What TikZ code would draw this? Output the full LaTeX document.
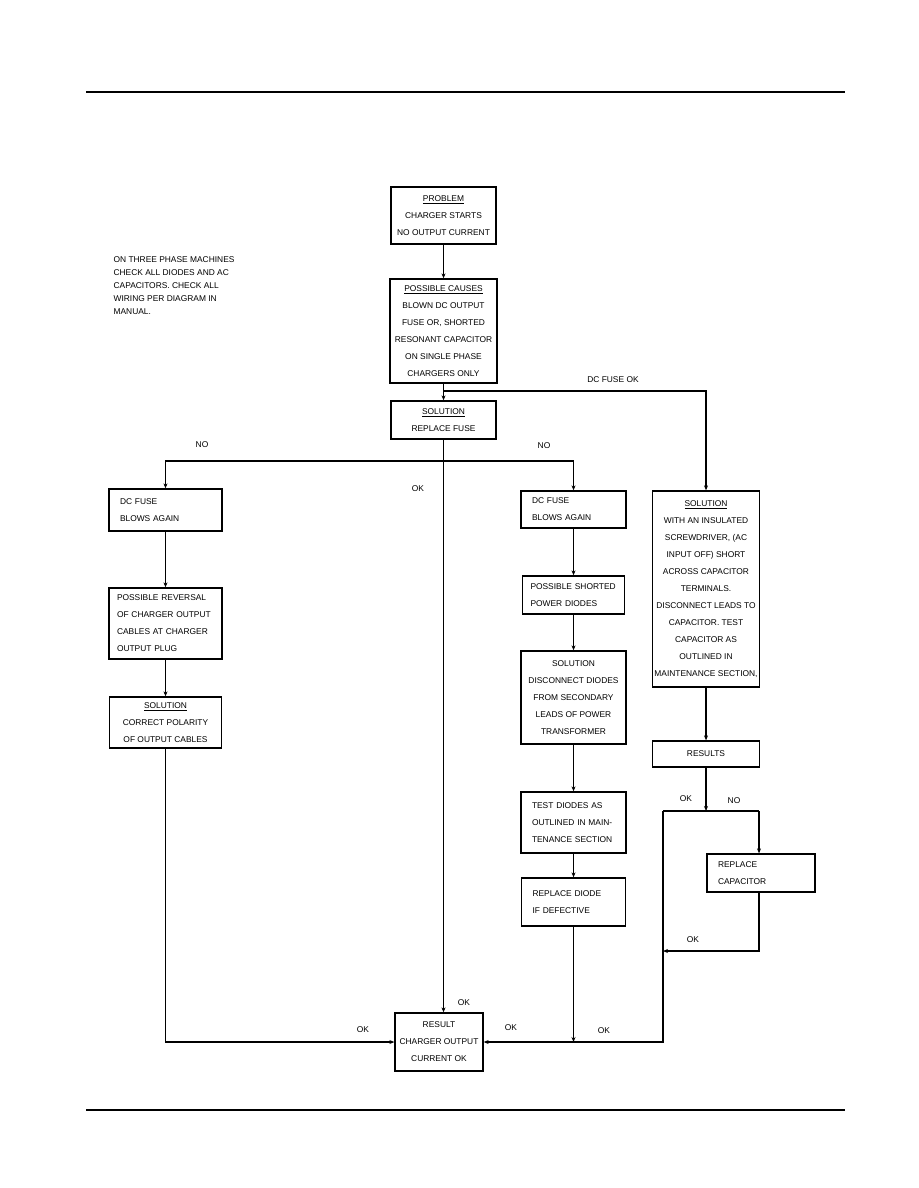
\documentclass[tikz,border=0pt]{standalone}
\usepackage{fontspec}
\setmainfont{Liberation Sans}
\usetikzlibrary{arrows.meta}
\hyphenpenalty=10000

\begin{document}
\begin{tikzpicture}[x=1pt,y=-1pt,>={Stealth[length=5pt,width=4pt]},line width=1.2pt,
box/.style={draw,line width=1.3pt,inner sep=2pt,align=center,font=\fontsize{8.4}{17}\selectfont},
lbox/.style={box,align=left,inner xsep=11pt},
lbl/.style={font=\fontsize{8.4}{13}\selectfont,inner sep=0pt}]
\useasboundingbox (0,0) rectangle (918,1188);
\draw[line width=1.5pt](86,92)--(845,92);
\draw[line width=2pt](86,1110)--(845,1110);
\node[lbl,anchor=west,align=left] (note) at (113,286) {ON THREE PHASE MACHINES\\CHECK ALL DIODES AND AC\\CAPACITORS. CHECK ALL\\WIRING PER DIAGRAM IN\\MANUAL.};
\node[box,minimum width=105pt,minimum height=57pt] (prob) at (443.5,215.5) {\underline{PROBLEM}\\CHARGER STARTS\\NO OUTPUT CURRENT};
\node[box,minimum width=107pt,minimum height=104pt] (cause) at (443.5,331) {\underline{POSSIBLE CAUSES}\\BLOWN DC OUTPUT\\FUSE OR, SHORTED\\RESONANT CAPACITOR\\ON SINGLE PHASE\\CHARGERS ONLY};
\node[box,minimum width=105pt,minimum height=38pt] (fuse) at (443.5,420) {\underline{SOLUTION}\\REPLACE FUSE};
\node[lbox,text width=91pt,minimum height=42pt] (blowL) at (165.5,510) {DC FUSE\\BLOWS AGAIN};
\node[lbox,inner xsep=8pt,text width=97pt,minimum height=71pt] (revers) at (165.5,623.5) {POSSIBLE REVERSAL\\OF CHARGER OUTPUT\\CABLES AT CHARGER\\OUTPUT PLUG};
\node[box,minimum width=112pt,minimum height=51pt] (polar) at (165.5,722.5) {\underline{SOLUTION}\\CORRECT POLARITY\\OF OUTPUT CABLES};
\node[lbox,text width=83pt,minimum height=37pt] (blowM) at (573.5,509.5) {DC FUSE\\BLOWS AGAIN};
\node[lbox,inner xsep=8pt,text width=86pt,minimum height=38pt] (short) at (573.5,595) {POSSIBLE SHORTED\\POWER DIODES};
\node[box,minimum width=105pt,minimum height=93pt] (discon) at (573.5,697.5) {SOLUTION\\DISCONNECT DIODES\\FROM SECONDARY\\LEADS OF POWER\\TRANSFORMER};
\node[lbox,text width=83pt,minimum height=61pt] (test) at (573.5,822.5) {TEST DIODES AS\\OUTLINED IN MAIN-\\TENANCE SECTION};
\node[lbox,text width=82pt,minimum height=48pt] (repD) at (573.5,902) {REPLACE DIODE\\IF DEFECTIVE};
\node[box,minimum width=107pt,minimum height=196pt] (solR) at (706,589) {\underline{SOLUTION}\\WITH AN INSULATED\\SCREWDRIVER, (AC\\INPUT OFF) SHORT\\ACROSS CAPACITOR\\TERMINALS.\\DISCONNECT LEADS TO\\CAPACITOR. TEST\\CAPACITOR AS\\OUTLINED IN\\MAINTENANCE SECTION,};
\node[box,minimum width=107pt,minimum height=26pt] (results) at (706,754) {RESULTS};
\node[lbox,text width=86pt,minimum height=38pt] (repC) at (761,873) {REPLACE\\CAPACITOR};
\node[box,minimum width=88pt,minimum height=58pt] (result) at (439,1042) {RESULT\\CHARGER OUTPUT\\CURRENT OK};
\node[lbl] (fuseok) at (613,380) {DC FUSE OK};
\node[lbl] (noL) at (202,445) {NO};
\node[lbl] (noM) at (544,446) {NO};
\node[lbl] (okM) at (418,489) {OK};
\node[lbl] (okR) at (686,799) {OK};
\node[lbl] (noR) at (734,801) {NO};
\node[lbl] (okC) at (693,940) {OK};
\node[lbl] (okT) at (464,1003) {OK};
\node[lbl] (okA) at (363,1030) {OK};
\node[lbl] (okB) at (511,1028) {OK};
\node[lbl] (okD) at (604,1031) {OK};
\coordinate (fok) at (443.5,391);
\coordinate (fno) at (443.5,461);
\coordinate (rsplit) at (706,811);
\coordinate (okleft) at (663,811);
\coordinate (noright) at (759,811);
\coordinate (back) at (663,951);
\draw[->](prob)--(cause);
\draw[->](cause)--(fuse);
\draw[->](fok)-|(solR);
\draw[->](fuse.south)--(fuse.south|-result.north);
\draw[->](fno)-|(blowL);
\draw[->](fno)-|(blowM);
\draw[->](blowL)--(revers);
\draw[->](revers)--(polar);
\draw[->](polar)|-(result);
\draw[->](blowM)--(short);
\draw[->](short)--(discon);
\draw[->](discon)--(test);
\draw[->](test)--(repD);
\draw[->](repD)--(repD|-result.east);
\draw[->](solR)--(results);
\draw[->](results)--(rsplit);
\draw(okleft)--(noright);
\draw[->](noright)--(noright|-repC.north);
\draw[->](noright|-repC.south)|-(back);
\draw[->](okleft)|-(result);
\end{tikzpicture}
\end{document}
